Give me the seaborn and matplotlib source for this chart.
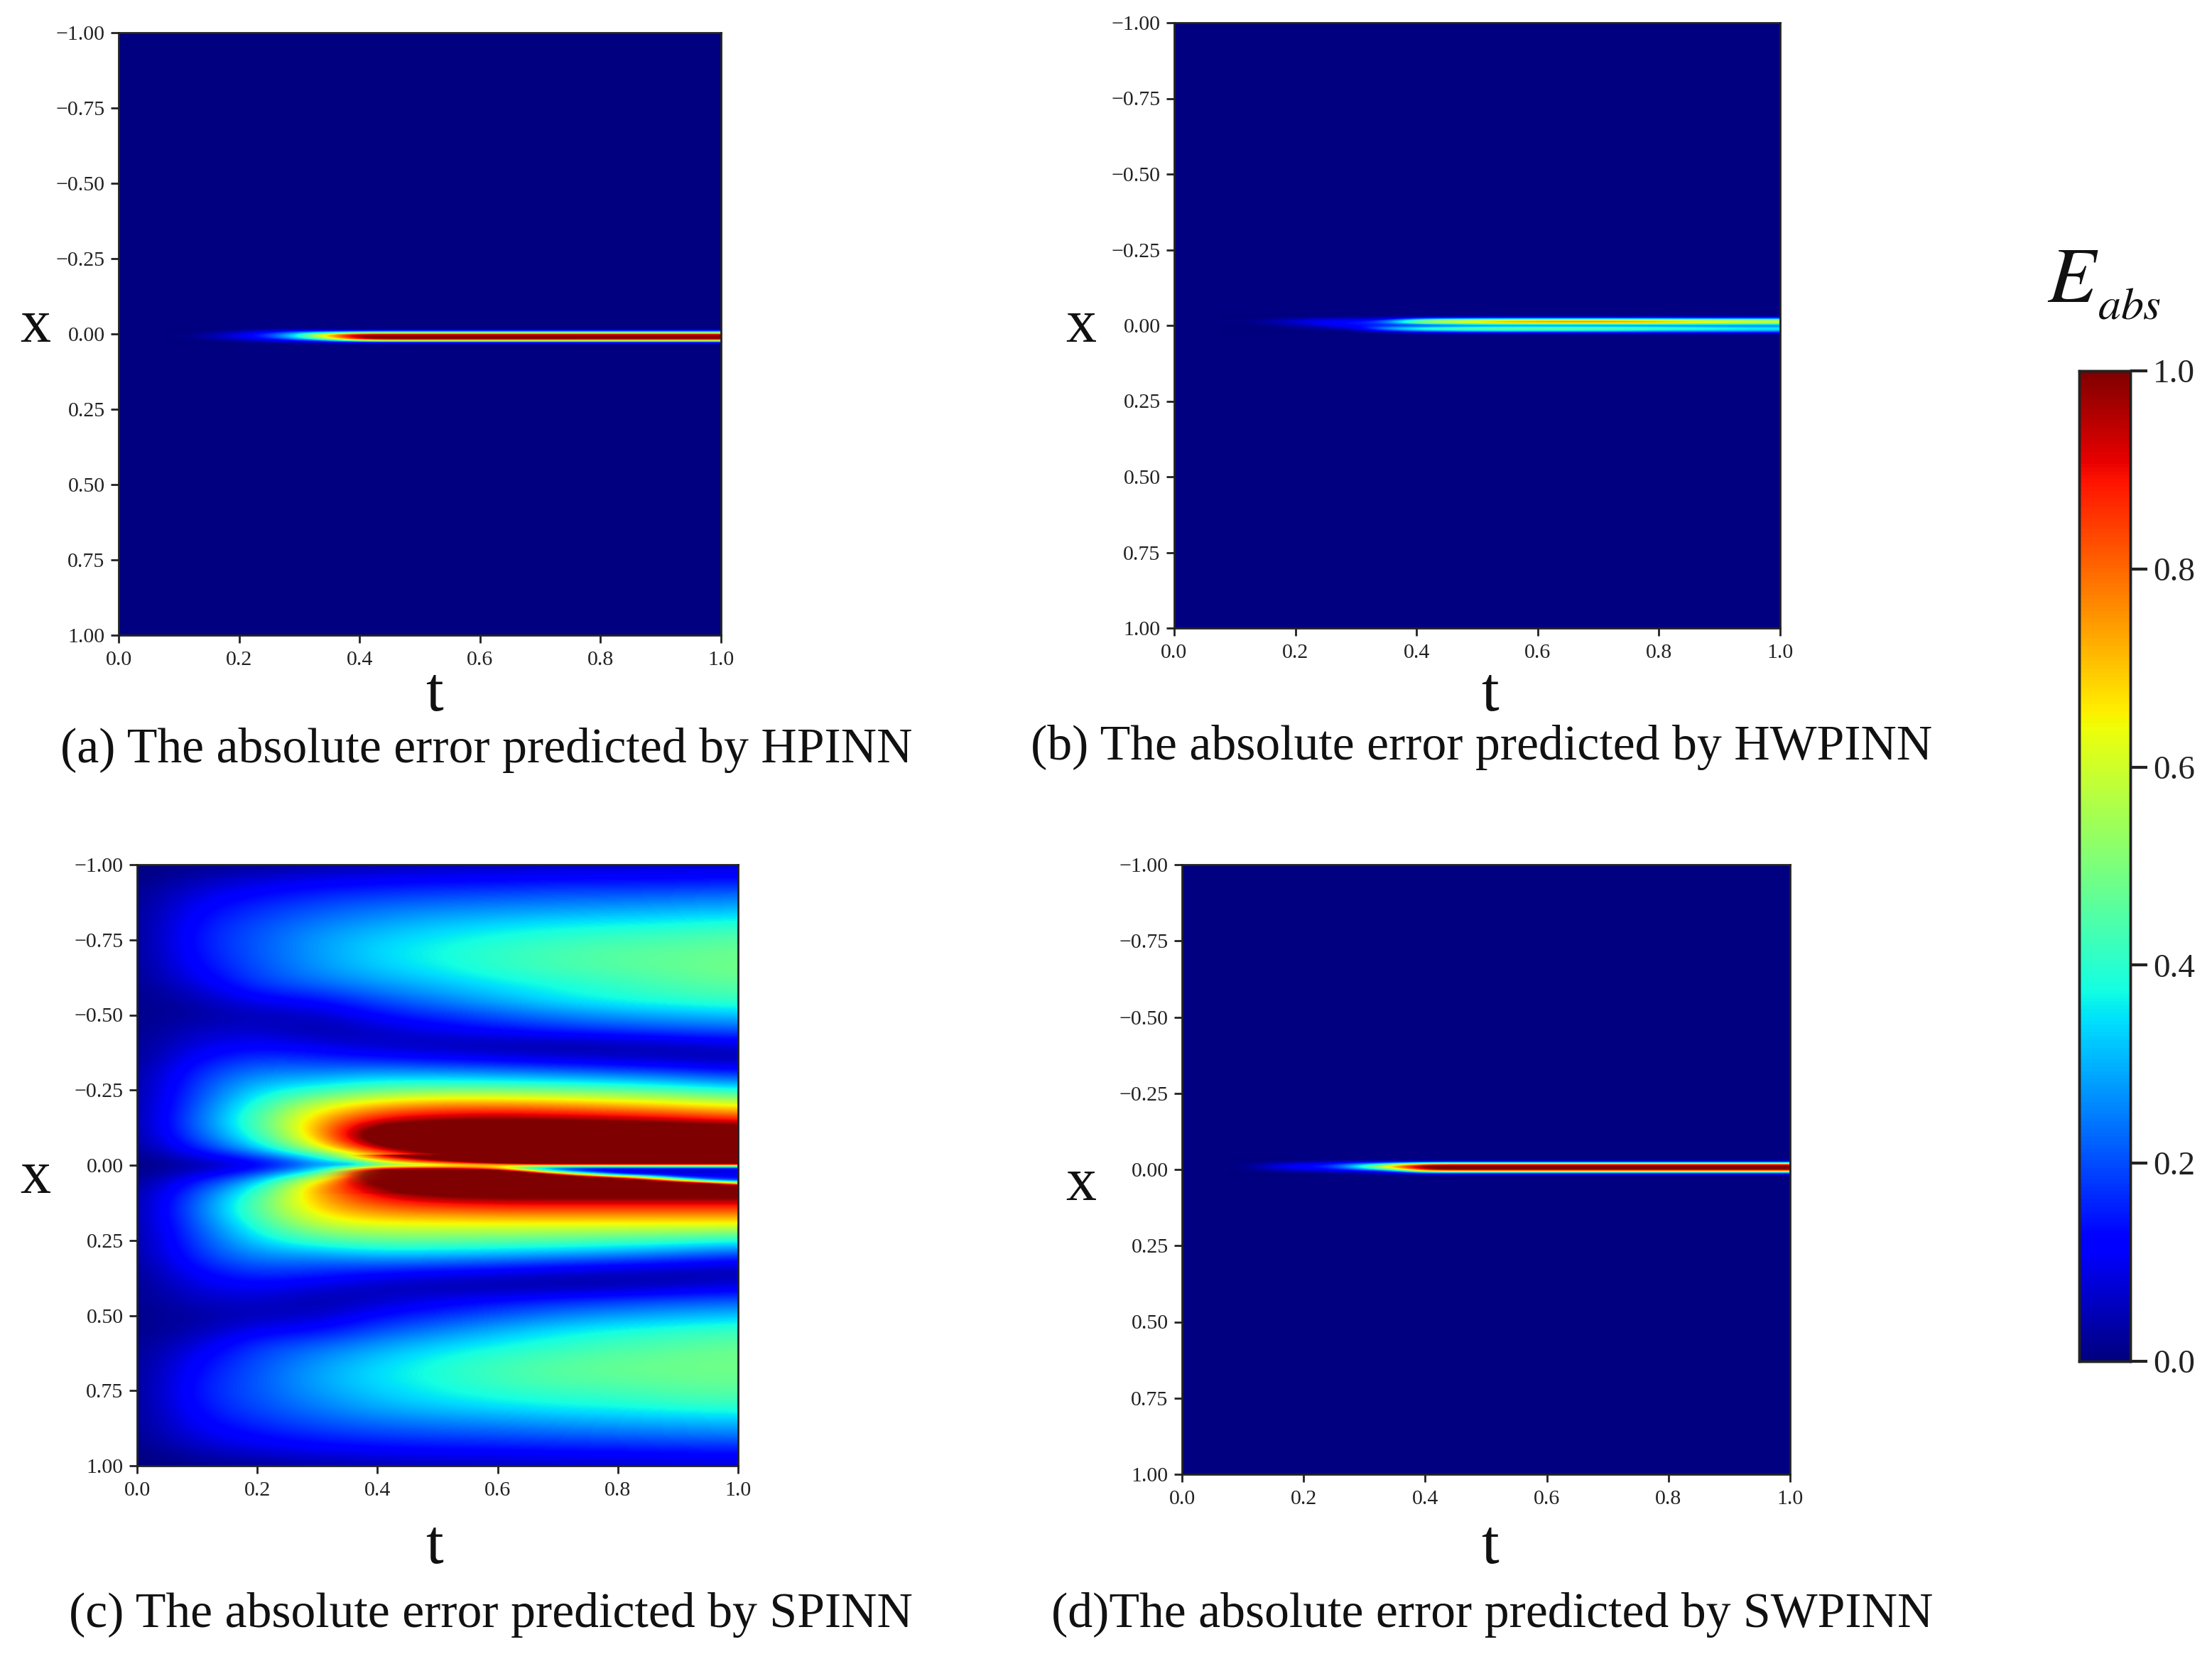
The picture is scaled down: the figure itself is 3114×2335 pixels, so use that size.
import numpy as np
import seaborn as sns
import matplotlib.pyplot as plt

plt.rcParams['font.family'] = ['Liberation Serif', 'DejaVu Serif']

W, H = 3114, 2335

t_labels = ['0.0', '0.2', '0.4', '0.6', '0.8', '1.0']
t_ticks = [0.0, 0.2, 0.4, 0.6, 0.8, 1.0]
x_ticks = [-1.0, -0.75, -0.5, -0.25, 0.0, 0.25, 0.5, 0.75, 1.0]
x_labels = ['\u22121.00', '\u22120.75', '\u22120.50', '\u22120.25', '0.00', '0.25', '0.50', '0.75', '1.00']
cbar_ticks = [0.0, 0.2, 0.4, 0.6, 0.8, 1.0]

# flat dark background for the three panels with only a thin band
empty_field = [[0.0, 0.0], [0.0, 0.0]]

# band columns shared by panels a, b, d
band_t = [0.10, 0.15, 0.20, 0.25, 0.30, 0.35, 0.40, 0.45, 0.50, 0.55, 0.60, 0.65, 0.70, 0.75, 0.80, 0.85, 0.90, 0.95, 1.00]
# fades the start of each band into the background
band_fade = [0.0, 1.0, 1.0, 1.0, 1.0, 1.0, 1.0, 1.0, 1.0, 1.0, 1.0, 1.0, 1.0, 1.0, 1.0, 1.0, 1.0, 1.0, 1.0]

# HPINN band
hpinn_x = [-0.02, -0.015, -0.01, -0.005, 0.0, 0.005, 0.01, 0.015, 0.02, 0.025, 0.03, 0.035]
hpinn_band = [
    [0, 0, 0, 0, 0, 0, 0, 0, 0, 0, 0, 0, 0, 0, 0, 0, 0, 0, 0],
    [0, 0, .01, .03, .04, .03, .01, .01, .01, .01, .01, .01, .01, .01, .01, .01, .01, .01, .01],
    [0, .005, .03, .07, .12, .12, .14, .15, .15, .15, .15, .15, .15, .15, .15, .15, .15, .15, .15],
    [.005, .015, .05, .12, .25, .35, .44, .45, .45, .45, .45, .45, .45, .45, .45, .45, .45, .45, .45],
    [.01, .03, .08, .16, .34, .62, .80, .80, .80, .80, .80, .80, .80, .80, .80, .80, .80, .80, .80],
    [.015, .04, .09, .18, .38, .72, 1.05, 1.05, 1.05, 1.05, 1.05, 1.05, 1.05, 1.05, 1.05, 1.05, 1.05, 1.05, 1.05],
    [.015, .04, .09, .17, .37, .70, 1.0, 1.0, 1.0, 1.0, 1.0, 1.0, 1.0, 1.0, .98, .98, .96, .96, .95],
    [.01, .03, .07, .14, .30, .58, 1.0, 1.05, 1.05, 1.05, 1.05, 1.05, 1.05, 1.05, 1.05, 1.05, 1.05, 1.05, 1.05],
    [.005, .015, .04, .09, .18, .36, .72, .78, .78, .78, .78, .78, .78, .78, .78, .78, .78, .78, .78],
    [0, .005, .02, .05, .09, .15, .29, .30, .30, .30, .30, .30, .30, .30, .30, .30, .30, .30, .30],
    [0, 0, .005, .02, .03, .04, .07, .08, .08, .08, .08, .08, .08, .08, .08, .08, .08, .08, .08],
    [0, 0, 0, 0, 0, 0, 0, 0, 0, 0, 0, 0, 0, 0, 0, 0, 0, 0, 0],
]

# HWPINN band
hwpinn_x = [-0.035, -0.03, -0.025, -0.02, -0.015, -0.01, -0.005, 0.0, 0.005, 0.01, 0.015, 0.02, 0.025, 0.03]
hwpinn_band = [
    [0, 0, 0, 0, 0, 0, 0, 0, 0, 0, 0, 0, 0, 0, 0, 0, 0, 0, 0],
    [0, 0, 0, .01, .01, .01, .02, .02, .03, .03, .03, .03, .03, .03, .03, .03, .03, .03, .03],
    [0, .01, .02, .04, .04, .05, .14, .16, .17, .17, .17, .17, .17, .17, .17, .17, .17, .17, .17],
    [0, .015, .05, .08, .08, .10, .34, .40, .44, .46, .47, .47, .47, .46, .44, .42, .40, .40, .38],
    [.01, .03, .07, .11, .11, .20, .52, .60, .66, .70, .72, .74, .74, .72, .70, .67, .65, .63, .61],
    [.01, .03, .07, .12, .13, .22, .52, .60, .68, .73, .75, .76, .76, .75, .72, .69, .66, .63, .61],
    [.005, .02, .05, .12, .14, .17, .32, .40, .44, .46, .46, .46, .46, .46, .45, .44, .43, .42, .42],
    [0, .01, .03, .08, .13, .16, .18, .20, .22, .23, .23, .23, .23, .23, .23, .23, .23, .23, .23],
    [0, 0, .015, .05, .10, .24, .30, .34, .37, .39, .39, .39, .38, .37, .36, .34, .33, .31, .31],
    [0, 0, .01, .03, .06, .28, .40, .44, .46, .47, .47, .47, .46, .45, .43, .41, .39, .38, .37],
    [0, 0, 0, .015, .03, .20, .33, .38, .41, .43, .43, .43, .41, .39, .37, .36, .35, .34, .33],
    [0, 0, 0, 0, .01, .08, .17, .21, .23, .25, .24, .24, .24, .24, .22, .22, .22, .22, .22],
    [0, 0, 0, 0, 0, .015, .05, .07, .09, .09, .09, .09, .09, .09, .09, .09, .09, .09, .09],
    [0, 0, 0, 0, 0, 0, 0, 0, 0, 0, 0, 0, 0, 0, 0, 0, 0, 0, 0],
]

# SWPINN band
swpinn_x = [-0.035, -0.03, -0.025, -0.02, -0.015, -0.01, -0.005, 0.0, 0.005, 0.01, 0.015, 0.02]
swpinn_band = [
    [0, 0, 0, 0, 0, 0, 0, 0, 0, 0, 0, 0, 0, 0, 0, 0, 0, 0, 0],
    [0, 0, .01, .02, .03, .03, .03, .03, .03, .03, .03, .03, .03, .03, .03, .03, .03, .03, .03],
    [.01, .02, .04, .07, .12, .14, .19, .20, .20, .20, .20, .20, .20, .20, .20, .20, .20, .20, .20],
    [.03, .05, .08, .12, .24, .36, .62, .65, .65, .65, .65, .65, .65, .65, .65, .65, .65, .65, .65],
    [.05, .08, .11, .16, .36, .62, .95, .95, .95, .95, .95, .95, .95, .95, .95, .95, .95, .95, .95],
    [.06, .09, .12, .17, .40, .74, 1.05, 1.05, 1.05, 1.05, 1.05, 1.05, 1.05, 1.05, 1.05, 1.05, 1.05, 1.05, 1.05],
    [.05, .08, .11, .15, .34, .65, 1.05, 1.05, 1.05, 1.05, 1.05, 1.05, 1.05, 1.05, 1.05, 1.05, 1.05, 1.05, 1.05],
    [.03, .05, .08, .11, .22, .42, .92, .95, .95, .95, .95, .95, .95, .95, .95, .95, .95, .95, .95],
    [.015, .03, .05, .07, .11, .20, .62, .65, .65, .65, .65, .65, .65, .65, .65, .65, .65, .65, .65],
    [0, .01, .02, .03, .05, .08, .27, .28, .28, .28, .28, .28, .28, .28, .28, .28, .28, .28, .28],
    [0, 0, 0, .01, .02, .03, .06, .06, .06, .06, .06, .06, .06, .06, .06, .06, .06, .06, .06],
    [0, 0, 0, 0, 0, 0, 0, 0, 0, 0, 0, 0, 0, 0, 0, 0, 0, 0, 0],
]

# SPINN field, rows x = -1 .. 1, columns t = 0 .. 1
spinn_t = [0.0, 0.1, 0.2, 0.3, 0.4, 0.5, 0.6, 0.7, 0.8, 0.9, 1.0]
spinn_x = [-1.0, -0.95, -0.9, -0.85, -0.8, -0.75, -0.7, -0.65, -0.6, -0.55, -0.5, -0.45, -0.4, -0.35, -0.3, -0.25,
           -0.2, -0.15, -0.1, -0.05, 0.0, 0.05, 0.1, 0.15, 0.2, 0.25, 0.3, 0.35, 0.4, 0.45, 0.5, 0.55, 0.6, 0.65,
           0.7, 0.75, 0.8, 0.85, 0.9, 0.95, 1.0]
spinn_field = [
    [.00, .01, .02, .03, .04, .05, .05, .06, .06, .07, .07],
    [.00, .05, .08, .10, .11, .12, .12, .13, .13, .13, .14],
    [.01, .09, .13, .16, .18, .19, .20, .21, .21, .22, .23],
    [.01, .12, .17, .21, .24, .26, .27, .28, .29, .30, .31],
    [.01, .14, .20, .25, .29, .32, .34, .36, .37, .38, .40],
    [.01, .15, .21, .28, .33, .36, .39, .41, .43, .44, .46],
    [.01, .14, .21, .28, .34, .38, .41, .44, .46, .47, .48],
    [.01, .12, .20, .27, .32, .36, .40, .43, .45, .47, .49],
    [.01, .08, .18, .22, .27, .31, .35, .38, .41, .44, .46],
    [.01, .04, .11, .13, .20, .25, .30, .35, .38, .40, .42],
    [.01, .03, .05, .06, .13, .17, .21, .25, .28, .30, .32],
    [.01, .06, .07, .03, .06, .10, .13, .16, .18, .20, .21],
    [.01, .09, .12, .09, .06, .04, .03, .02, .03, .05, .08],
    [.01, .13, .19, .17, .15, .13, .11, .09, .07, .05, .03],
    [.02, .17, .27, .27, .31, .30, .29, .27, .25, .22, .18],
    [.02, .19, .34, .40, .46, .48, .48, .47, .45, .42, .37],
    [.02, .21, .40, .60, .72, .78, .78, .76, .72, .68, .63],
    [.02, .23, .44, .72, .92, .97, 1.0, .98, .96, .93, .88],
    [.02, .21, .40, .72, 1.2, 1.3, 1.3, 1.3, 1.3, 1.25, 1.2],
    [.01, .14, .30, .57, .95, 1.2, 1.3, 1.3, 1.3, 1.3, 1.3],
    [.00, .01, .03, .10, .30, .60, .60, .60, .60, .60, .60],
    [.01, .14, .30, .72, 1.05, 1.3, 1.3, 1.3, 1.3, 1.3, 1.3],
    [.02, .21, .43, .74, .92, 1.0, 1.03, 1.03, 1.03, 1.03, 1.03],
    [.02, .23, .46, .68, .78, .80, .82, .82, .82, .82, .82],
    [.02, .21, .40, .58, .62, .62, .62, .62, .62, .62, .62],
    [.02, .19, .34, .43, .47, .47, .46, .45, .43, .41, .38],
    [.02, .17, .27, .27, .31, .30, .29, .27, .25, .22, .18],
    [.01, .13, .19, .17, .15, .13, .11, .08, .06, .04, .03],
    [.01, .09, .12, .09, .05, .03, .02, .02, .03, .05, .08],
    [.01, .06, .07, .03, .06, .10, .13, .16, .18, .20, .21],
    [.01, .03, .05, .06, .13, .17, .21, .25, .28, .30, .32],
    [.01, .04, .11, .13, .20, .25, .30, .35, .38, .40, .42],
    [.01, .08, .18, .22, .28, .33, .37, .40, .43, .45, .47],
    [.01, .12, .20, .27, .33, .38, .42, .45, .47, .48, .49],
    [.01, .14, .21, .29, .35, .39, .43, .46, .47, .48, .48],
    [.01, .15, .21, .28, .33, .37, .40, .42, .43, .45, .46],
    [.01, .14, .20, .25, .30, .33, .35, .37, .38, .40, .41],
    [.01, .12, .17, .21, .24, .26, .27, .29, .30, .31, .32],
    [.01, .09, .13, .16, .18, .19, .20, .21, .22, .23, .24],
    [.00, .05, .08, .10, .11, .12, .12, .13, .13, .14, .14],
    [.00, .01, .02, .03, .04, .05, .05, .06, .06, .07, .07],
]

# finer SPINN values around the thin line at x = 0
crack_t = [0.3, 0.35, 0.4, 0.45, 0.5, 0.55, 0.6, 0.65, 0.7, 0.75, 0.8, 0.85, 0.9, 0.95, 1.0]
crack_x = [-0.03, -0.02, -0.01, 0.0, 0.01, 0.02, 0.03, 0.04, 0.05, 0.06, 0.07, 0.08, 0.09]
crack_field = [
    [.42, .62, .90, 1.05, 1.15, 1.25, 1.3, 1.3, 1.3, 1.3, 1.3, 1.3, 1.3, 1.3, 1.3],
    [.33, .50, .72, .90, 1.05, 1.15, 1.25, 1.3, 1.3, 1.3, 1.3, 1.3, 1.3, 1.3, 1.3],
    [.22, .34, .58, .72, .85, 1.0, 1.15, 1.25, 1.3, 1.3, 1.3, 1.3, 1.3, 1.3, 1.3],
    [.12, .25, .45, .50, .55, .60, .65, .72, .75, .75, .75, .75, .75, .75, .75],
    [.40, .55, .85, .90, .90, .85, .70, .30, .16, .12, .12, .12, .12, .12, .12],
    [.56, .80, 1.1, 1.15, 1.2, 1.2, 1.15, .80, .30, .12, .08, .07, .06, .07, .08],
    [.62, .88, 1.15, 1.25, 1.3, 1.3, 1.3, 1.2, .90, .50, .15, .10, .10, .10, .10],
    [.66, .90, 1.1, 1.2, 1.3, 1.3, 1.3, 1.3, 1.2, 1.05, .85, .50, .15, .14, .14],
    [.70, .92, 1.05, 1.15, 1.25, 1.3, 1.3, 1.3, 1.3, 1.25, 1.15, 1.0, .65, .22, .16],
    [.72, .91, 1.03, 1.12, 1.2, 1.3, 1.3, 1.3, 1.3, 1.3, 1.3, 1.2, 1.1, 1.0, .55],
    [.73, .89, 1.0, 1.08, 1.15, 1.2, 1.3, 1.3, 1.3, 1.3, 1.3, 1.3, 1.25, 1.2, 1.1],
    [.74, .87, .97, 1.05, 1.1, 1.15, 1.2, 1.2, 1.2, 1.2, 1.2, 1.2, 1.2, 1.2, 1.2],
    [.74, .85, .94, 1.02, 1.05, 1.08, 1.1, 1.1, 1.1, 1.1, 1.1, 1.1, 1.1, 1.1, 1.1],
]
# fade on the left edge so the finer patch blends into the coarse field
crack_fade = [0.0, 0.7, 1.0, 1.0, 1.0, 1.0, 1.0, 1.0, 1.0, 1.0, 1.0, 1.0, 1.0, 1.0, 1.0]

captions = ['(a) The absolute error predicted by HPINN', '(b) The absolute error predicted by HWPINN',
            '(c) The absolute error predicted by SPINN', '(d)The absolute error predicted by SWPINN']


def add_axes_px(fig, left, top, right, bottom):
    return fig.add_axes([left / W, 1 - bottom / H, (right - left) / W, (bottom - top) / H])


def draw_panel(ax, base, layers, cbar_ax=None):
    base = np.array(base)
    nrows, ncols = base.shape
    sns.heatmap(base, ax=ax, cmap='jet', vmin=0, vmax=1, xticklabels=False, yticklabels=False,
                cbar=cbar_ax is not None, cbar_ax=cbar_ax, cbar_kws={'ticks': cbar_ticks})
    for ts, xs, vals, fade in layers:
        dt = (ts[-1] - ts[0]) / (len(ts) - 1) / 2
        dx = (xs[-1] - xs[0]) / (len(xs) - 1) / 2
        extent = [(ts[0] - dt) * ncols, (ts[-1] + dt) * ncols,
                  (xs[-1] + dx + 1) / 2 * nrows, (xs[0] - dx + 1) / 2 * nrows]
        alpha = None
        if fade is not None:
            alpha = np.tile(fade, (len(xs), 1))
        ax.imshow(vals, cmap='jet', vmin=0, vmax=1, interpolation='bicubic', interpolation_stage='data',
                  aspect='auto', extent=extent, zorder=2, alpha=alpha)
    ax.set_xlim(0, ncols)
    ax.set_ylim(nrows, 0)
    ax.set_xticks(np.array(t_ticks) * ncols)
    ax.set_xticklabels(t_labels, rotation=0)
    ax.set_yticks((np.array(x_ticks) + 1) / 2 * nrows)
    ax.set_yticklabels(x_labels, rotation=0)
    ax.tick_params(length=8, width=2, labelsize=21.5, color='#222222', labelcolor='#222222')
    ax.tick_params(axis='x', pad=8)
    ax.tick_params(axis='y', pad=6)
    for spine in ax.spines.values():
        spine.set_visible(True)
        spine.set_edgecolor('#222222')
        spine.set_linewidth(2)


fig = plt.figure(figsize=(W / 100, H / 100), dpi=100)

ax_a = add_axes_px(fig, 167, 46, 1015, 894)
ax_b = add_axes_px(fig, 1653, 32, 2506, 884)
ax_c = add_axes_px(fig, 193, 1217, 1039, 2063)
ax_d = add_axes_px(fig, 1664, 1217, 2520, 2075)
cax = add_axes_px(fig, 2927, 522, 2999, 1916)

draw_panel(ax_a, empty_field, [(band_t, hpinn_x, hpinn_band, band_fade)], cbar_ax=cax)
draw_panel(ax_b, empty_field, [(band_t, hwpinn_x, hwpinn_band, band_fade)])
draw_panel(ax_c, spinn_field, [(spinn_t, spinn_x, spinn_field, None), (crack_t, crack_x, crack_field, crack_fade)])
draw_panel(ax_d, empty_field, [(band_t, swpinn_x, swpinn_band, band_fade)])

cax.tick_params(length=17, width=3, labelsize=34, pad=6, color='#222222', labelcolor='#222222')
cax.set_yticklabels(t_labels)
for spine in cax.spines.values():
    spine.set_visible(True)
    spine.set_edgecolor('#222222')
    spine.set_linewidth(2.5)

# text positions given in the 1568x1176 preview
for cx, cy, s in zip([345, 1050, 348, 1058], [532, 530, 1145, 1145], captions):
    fig.text(cx / 1568, 1 - cy / 1176, s, ha='center', va='center', fontsize=50.2, color='#111111')
for cx, cy in zip([25, 766, 25, 766], [232, 232, 835, 840]):
    fig.text(cx / 1568, 1 - cy / 1176, 'x', ha='center', va='center', fontsize=62, color='#111111')
for cx, cy in zip([308, 1056, 308, 1056], [493, 493, 1097, 1097]):
    fig.text(cx / 1568, 1 - cy / 1176, 't', ha='center', va='center', fontsize=64, color='#111111')

fig.text(1451 / 1568, 1 - 214 / 1176, r'$E$', ha='left', va='baseline', fontsize=80,
         math_fontfamily='stix', color='#111111')
fig.text(1487 / 1568, 1 - 226 / 1176, r'$abs$', ha='left', va='baseline', fontsize=46,
         math_fontfamily='stix', color='#111111')

fig.savefig('out.png', dpi=100)
